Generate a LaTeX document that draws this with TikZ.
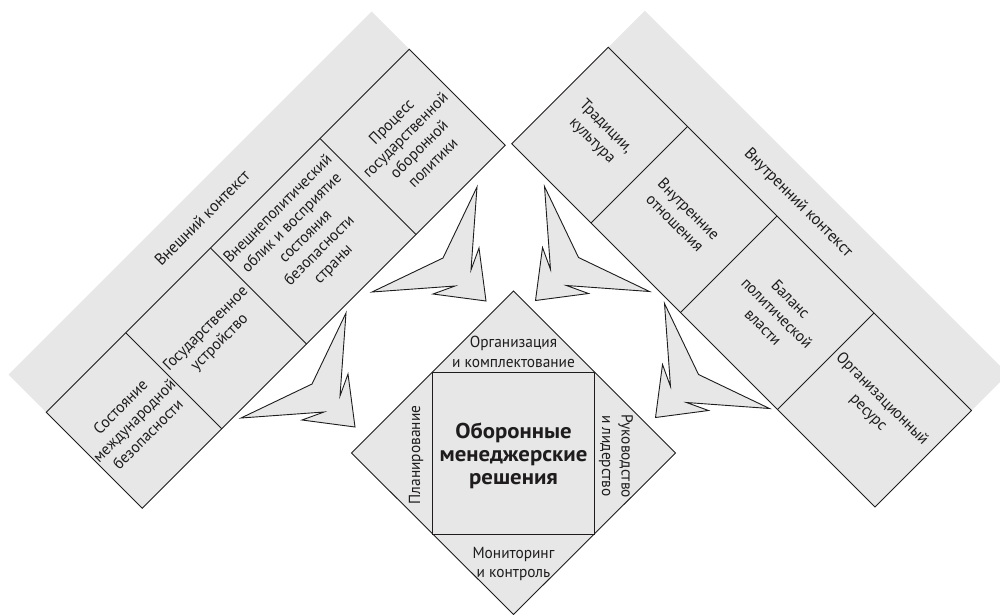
\documentclass[tikz,border=0pt]{standalone}
\usepackage{fontspec}
\setmainfont{PT Sans}[FakeStretch=0.96]
\newfontfamily\corefont{PT Sans}[FakeStretch=1.06]
\definecolor{panel}{RGB}{231,231,231}
\definecolor{ink}{RGB}{30,28,29}

% one sharp three-pronged pointer, tip at the origin, pointing down-right
\tikzset{
  pics/spur/.style={code={
    \path[boxline] (0,0) -- (-53,-7) -- (-31,-15) -- (-114,-9) -- (-43,-43)
      -- (-9,-114) -- (-15,-31) -- (-7,-53) -- cycle;
  }}
}

\begin{document}
\begin{tikzpicture}[x=1pt,y=-1pt,
  boxline/.style={draw=ink,fill=panel,line width=0.9pt,line join=miter},
  txt/.style={text=ink,align=center,inner sep=0pt,font=\fontsize{16}{19.5}\selectfont},
  head/.style={txt,font=\fontsize{16.5}{20}\selectfont},
  core/.style={txt,font=\fontsize{21.5}{23}\corefont\bfseries}]
\useasboundingbox (0,0) rectangle (1000,614);
\clip (0,0) rectangle (1000,614);

% ---- external context band (rising to the upper right)
\fill[panel] (8.5,374.5) -- (371.5,11.5) -- (505.25,145.25) -- (142.25,508.25) -- cycle;
\draw[boxline] (46.25,412.25) -- (409.25,49.25) -- (505.25,145.25) -- (142.25,508.25) -- cycle;
\draw[boxline,fill=none] (125.75,332.75) -- (221.75,428.75);
\draw[boxline,fill=none] (210.5,248) -- (306.5,344);
\draw[boxline,fill=none] (320,138.5) -- (416,234.5);

\node[head,rotate=45] (extc) at (202,218) {Внешний контекст};
\node[txt,rotate=45] (ext1) at (134,420.5) {Состояние\\международной\\безопасности};
\node[txt,rotate=45] (ext2) at (213,336) {Государственное\\устройство};
\node[txt,rotate=45] (ext3) at (306,237) {Внешнеполитический\\облик и восприятие\\состояния\\безопасности\\страны};
\node[txt,rotate=45] (ext4) at (412,142) {Процесс\\государственной\\оборонной\\политики};

% ---- internal context band (falling to the lower right)
\fill[panel] (644.75,10.75) -- (1008,374) -- (875,507) -- (511.75,143.75) -- cycle;
\draw[boxline] (608.25,47.25) -- (971.5,410.5) -- (875,507) -- (511.75,143.75) -- cycle;
\draw[boxline,fill=none] (687.5,126.5) -- (591,223);
\draw[boxline,fill=none] (777,216) -- (680.5,312.5);
\draw[boxline,fill=none] (874,313) -- (777.5,409.5);

\node[head,rotate=-45] (intc) at (798,203) {Внутренний контекст};
\node[txt,rotate=-45] (int1) at (599,134) {Традиции,\\культура};
\node[txt,rotate=-45] (int2) at (682,216) {Внутренние\\отношения};
\node[txt,rotate=-45] (int3) at (777,313) {Баланс\\политической\\власти};
\node[txt,rotate=-45] (int4) at (875,406) {Организационный\\ресурс};

% ---- pointers towards the decision diamond
\pic (sp1) at (486,301) {spur};
\pic (sp2) at (355,427) {spur};
\pic[xscale=-1] (sp3) at (535.5,300.5) {spur};
\pic[xscale=-1] (sp4) at (655.5,417.5) {spur};

% ---- decision diamond with inner square
\draw[boxline] (513.5,291) -- (675.5,453) -- (513.5,614.5) -- (351.5,453) -- cycle;
\draw[boxline] (432.5,372) rectangle (594.5,534);

\node[txt] (org) at (513.5,352) {Организация\\и комплектование};
\node[txt,rotate=90] (plan) at (416,455) {Планирование};
\node[txt,rotate=-90] (lead) at (616,456) {Руководство\\и лидерство};
\node[txt] (mon) at (513.5,564) {Мониторинг\\и контроль};
\node[core] (dec) at (513.5,456) {Оборонные\\менеджерские\\решения};
\end{tikzpicture}
\end{document}
